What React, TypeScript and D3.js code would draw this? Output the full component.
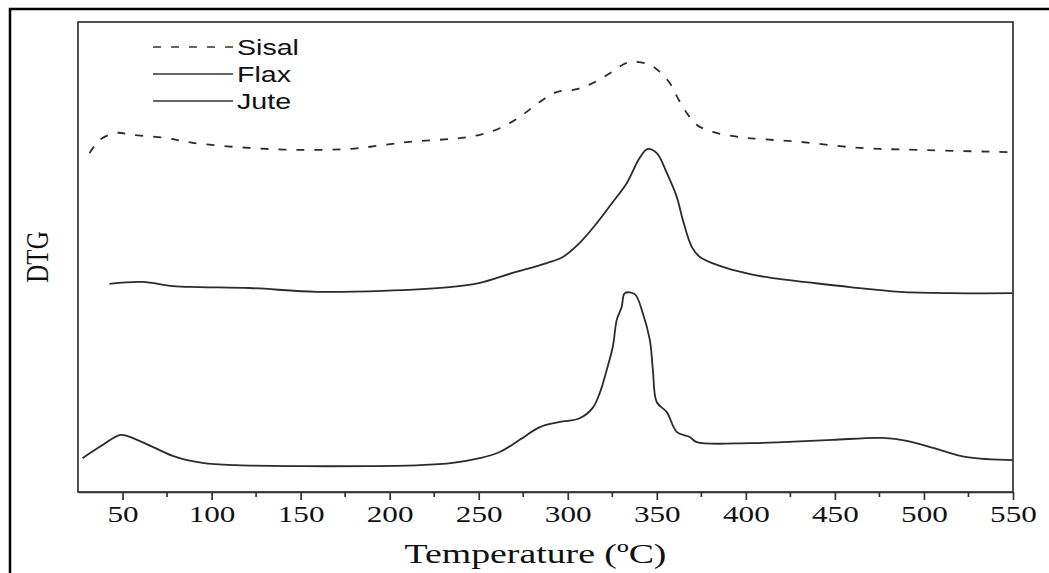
import React, { useEffect, useRef } from 'react';
import * as d3 from 'd3';

// DTG curves, arbitrary units
const sisalT = [31.5, 37.1, 46.6, 55.6, 74.7, 89.3, 121.3, 149.4, 177.5, 196.1, 211.2, 226.4, 239.3, 250.6, 261.8, 273.0, 284.3, 293.8, 305.1, 314.0, 323.6, 333.1, 338.8, 346.1, 351.7, 357.3, 361.8, 366.9, 372.5, 381.5, 396.6, 407.9, 430.3, 464.0, 496.1, 548.3];
const sisalV = [72.1, 74.9, 76.4, 76.0, 75.3, 74.3, 73.2, 72.8, 73.0, 73.8, 74.5, 74.9, 75.3, 76.0, 77.4, 79.8, 83.0, 85.1, 85.7, 87.0, 89.1, 91.3, 91.5, 90.9, 89.4, 87.0, 83.8, 80.6, 78.1, 76.6, 75.5, 75.1, 74.5, 73.2, 72.8, 72.3];

const flaxT = [42.7, 61.2, 78.1, 93.3, 121.3, 159.0, 196.1, 233.7, 250.6, 269.1, 288.2, 297.2, 306.7, 316.3, 325.3, 333.1, 340.4, 344.9, 350.0, 355.6, 361.2, 364.6, 369.7, 374.2, 385.4, 400.6, 415.0, 435.0, 458.4, 486.5, 514.6, 550];
const flaxV = [44.3, 44.7, 43.8, 43.6, 43.4, 42.6, 42.8, 43.6, 44.5, 46.6, 48.7, 50.0, 53.0, 57.2, 61.7, 65.7, 71.1, 73.0, 72.1, 67.9, 62.8, 57.9, 52.1, 50.0, 48.1, 46.5, 45.5, 44.6, 43.6, 42.6, 42.3, 42.3];

const juteT = [27.5, 38.8, 48.3, 52.8, 66.9, 80.3, 94.9, 114.0, 151.1, 188.8, 216.9, 235.4, 250.6, 261.8, 273.0, 284.3, 295.5, 306.7, 314.0, 318.0, 321.9, 325.3, 327.5, 330.3, 332.0, 337.6, 342.1, 346.1, 347.8, 350.0, 355.6, 361.2, 368.5, 372.5, 402.2, 420.8, 448.9, 477.0, 490.4, 505.1, 524.2, 550];
const juteV = [7.2, 10.0, 12.1, 11.9, 9.6, 7.4, 6.2, 5.7, 5.5, 5.5, 5.7, 6.2, 7.2, 8.5, 11.1, 13.8, 14.9, 15.7, 17.9, 21.1, 26.0, 30.9, 36.6, 39.4, 42.3, 42.1, 38.1, 32.3, 26.0, 19.1, 17.0, 12.8, 11.7, 10.6, 10.4, 10.6, 11.1, 11.5, 10.9, 9.4, 7.4, 6.8];

const majorTicks = [50, 100, 150, 200, 250, 300, 350, 400, 450, 500, 550];
const minorTicks = [75, 125, 175, 225, 275, 325, 375, 425, 475, 525];

const seriesNames = ['Sisal', 'Flax', 'Jute'];

const SERIF = '"Liberation Serif", "Times New Roman", serif';
const SANS = '"Liberation Sans", Arial, sans-serif';
const STRETCH = 1.3; // the figure's text is widened horizontally

const App = () => {
  const svgRef = useRef(null);

  useEffect(() => {
    const svg = d3.select(svgRef.current);
    svg.selectAll('*').remove();

    const margin = { top: 22, right: 36, bottom: 81, left: 78 };
    const W = 1049;
    const H = 573;
    const width = W - margin.left - margin.right;
    const height = H - margin.top - margin.bottom;

    const x = d3.scaleLinear().domain([25, 550]).range([0, width]);
    const y = d3.scaleLinear().domain([0, 100]).range([height, 0]);

    // outer figure frame
    svg.append('rect')
      .attr('x', 10).attr('y', 9)
      .attr('width', 1100).attr('height', 700)
      .attr('fill', 'none').attr('stroke', '#000').attr('stroke-width', 2.5);

    const g = svg.append('g').attr('transform', `translate(${margin.left},${margin.top})`);

    const line = d3.line()
      .x(d => x(d[0]))
      .y(d => y(d[1]));

    const draw = (ts, vs, dash, curve) => {
      g.append('path')
        .datum(ts.map((t, i) => [t, vs[i]]))
        .attr('d', line.curve(curve))
        .attr('fill', 'none')
        .attr('stroke', '#2b2b2b')
        .attr('stroke-width', 1.8)
        .attr('stroke-dasharray', dash);
    };
    draw(sisalT, sisalV, '8,10', d3.curveCatmullRom);
    draw(flaxT, flaxV, null, d3.curveCatmullRom);
    draw(juteT, juteV, null, d3.curveCatmullRom.alpha(0.5));

    // plot box
    g.append('rect')
      .attr('width', width).attr('height', height)
      .attr('fill', 'none').attr('stroke', '#333').attr('stroke-width', 1.7);

    const xAxis = d3.axisBottom(x)
      .tickValues(majorTicks)
      .tickSize(8)
      .tickPadding(5)
      .tickSizeOuter(0);

    const ax = g.append('g')
      .attr('transform', `translate(0,${height})`)
      .call(xAxis);
    ax.select('.domain').attr('stroke', '#333').attr('stroke-width', 1.7);
    ax.selectAll('.tick line').attr('stroke', '#333').attr('stroke-width', 1.7);
    ax.selectAll('.tick text')
      .attr('fill', '#111')
      .attr('transform', `scale(${STRETCH},1)`)
      .style('font-family', SERIF)
      .style('font-size', '24px');

    g.append('g')
      .selectAll('line')
      .data(minorTicks)
      .join('line')
      .attr('x1', d => x(d)).attr('x2', d => x(d))
      .attr('y1', height).attr('y2', height + 5)
      .attr('stroke', '#333').attr('stroke-width', 1.7);

    g.append('text')
      .attr('transform', `translate(${width / 2 - 10},${height + 71}) scale(1.35,1)`)
      .attr('text-anchor', 'middle')
      .attr('fill', '#111')
      .style('font-family', SERIF)
      .style('font-size', '28px')
      .text('Temperature (ºC)');

    svg.append('text')
      .attr('transform', `translate(48,257) scale(${STRETCH},1) rotate(-90)`)
      .attr('text-anchor', 'middle')
      .attr('fill', '#111')
      .style('font-family', SERIF)
      .style('font-size', '25px')
      .text('DTG');

    // legend
    const leg = svg.append('g').attr('transform', 'translate(153,47)');
    seriesNames.forEach((name, i) => {
      const row = leg.append('g').attr('transform', `translate(0,${i * 27})`);
      row.append('line')
        .attr('x1', 0).attr('x2', 80)
        .attr('stroke', '#333').attr('stroke-width', 1.7)
        .attr('stroke-dasharray', i === 0 ? '8,10' : null);
      row.append('text')
        .attr('transform', `translate(84,8) scale(${STRETCH},1)`)
        .attr('fill', '#111')
        .style('font-family', SANS)
        .style('font-size', '22px')
        .text(name);
    });
  }, []);

  return (
    <svg
      ref={svgRef}
      width={1049}
      height={573}
      style={{ position: 'absolute', left: 0, top: 0, background: '#fff' }}
    />
  );
};

export default App;
